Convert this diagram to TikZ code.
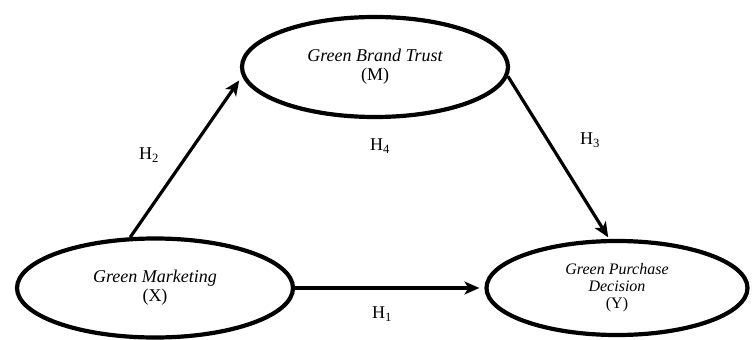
\documentclass[tikz,border=0pt]{standalone}
\usepackage{fontspec}
\setmainfont{Liberation Serif}
\usetikzlibrary{shapes.geometric,arrows.meta}
\tikzset{
  var/.style={draw, ellipse, line width=4.2pt, inner sep=0pt, align=center, font=\fontsize{18}{18}\selectfont\itshape},
  path/.style={line width=3.2pt, shorten >=5pt, -{Stealth[length=15pt,width=13pt,inset=4pt]}},
  hyp/.style={font=\fontsize{18}{20}\selectfont}
}
\begin{document}
\begin{tikzpicture}[x=1pt,y=-1pt]
\useasboundingbox (0,0) rectangle (755,340);
\node[var, minimum width=266pt, minimum height=100pt] (M) at (375,67) {Green Brand Trust\\[1pt]\upshape (M)};
\node[var, minimum width=276pt, minimum height=99pt] (X) at (155,288) {Green Marketing\\[1pt]\upshape (X)};
\node[var, minimum width=261pt, minimum height=94pt, font=\fontsize{16}{17}\selectfont\itshape] (Y) at (617,288) {Green Purchase\\Decision\\\upshape (Y)};
\draw[path] (X.116) -- (M.184);
\draw[path, shorten >=2pt] (M.-4) -- (Y.99);
\draw[path] (X.east) -- (Y.west);
\node[hyp] (h2) at (149,155) {H\textsubscript{2}};
\node[hyp] (h4) at (380,146) {H\textsubscript{4}};
\node[hyp] (h3) at (590,140) {H\textsubscript{3}};
\node[hyp] (h1) at (382,314) {H\textsubscript{1}};
\end{tikzpicture}
\end{document}
